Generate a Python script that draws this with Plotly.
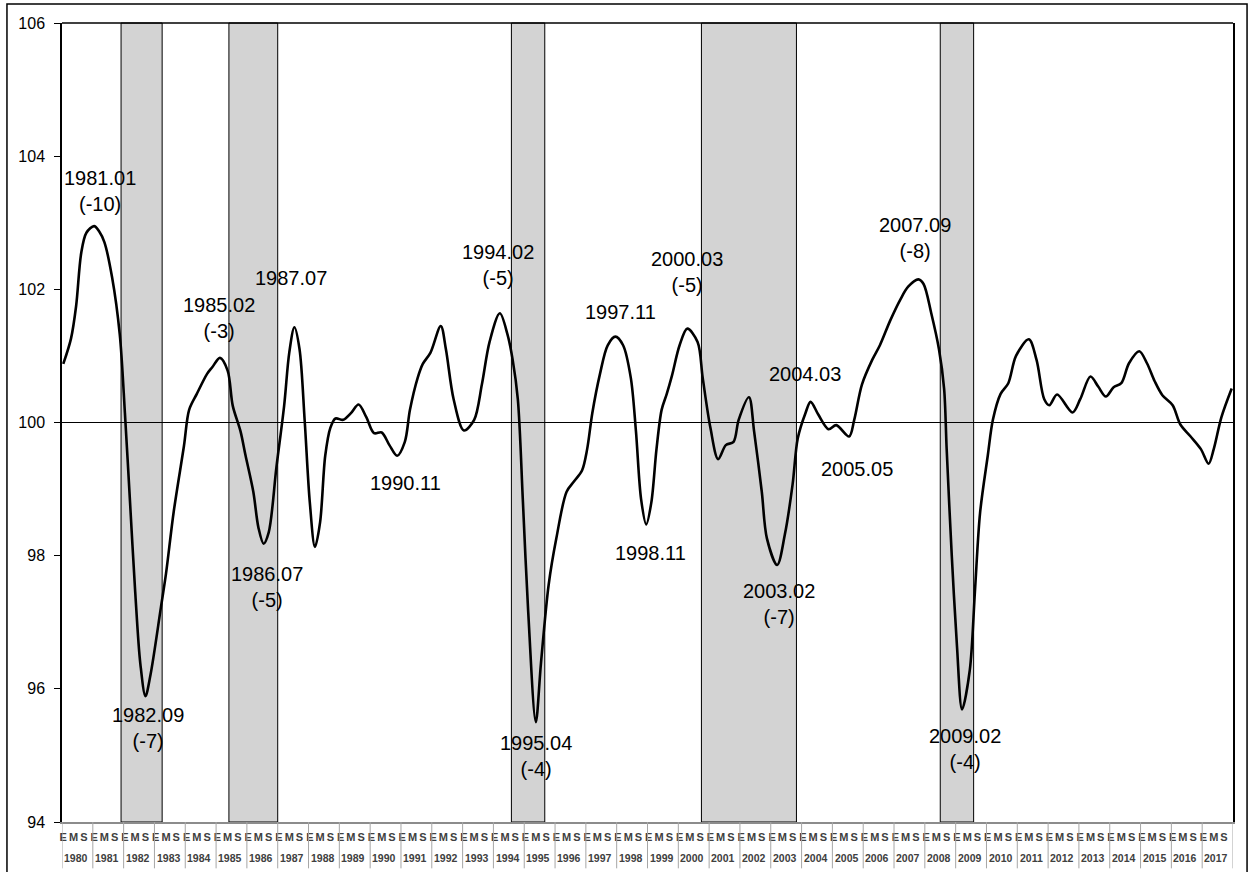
import plotly.graph_objects as go

# ---------------- data ----------------
fechas = [
    "1980.01", "1980.04", "1980.06", "1980.08", "1980.10", "1981.01", "1981.03", "1981.05",
    "1981.08", "1981.11", "1982.01", "1982.03", "1982.05", "1982.07", "1982.09", "1982.11",
    "1983.03", "1983.05", "1983.08", "1983.12", "1984.02", "1984.05", "1984.09", "1984.11",
    "1985.02", "1985.05", "1985.07", "1985.10", "1985.12", "1986.03", "1986.05", "1986.07",
    "1986.09", "1986.12", "1987.03", "1987.05", "1987.07", "1987.09", "1987.11", "1988.01",
    "1988.03", "1988.05", "1988.07", "1988.09", "1988.11", "1989.02", "1989.05", "1989.08",
    "1989.11", "1990.02", "1990.05", "1990.08", "1990.11", "1991.02", "1991.04", "1991.07",
    "1991.09", "1991.12", "1992.04", "1992.06", "1992.09", "1993.01", "1993.05", "1993.08",
    "1993.11", "1994.03", "1994.06", "1994.08", "1994.10", "1994.12", "1995.02", "1995.05",
    "1995.07", "1995.10", "1996.01", "1996.05", "1996.08", "1996.11", "1997.01", "1997.03",
    "1997.06", "1997.09", "1997.12", "1998.03", "1998.06", "1998.08", "1998.10", "1998.12",
    "1999.02", "1999.04", "1999.06", "1999.08", "1999.10", "2000.01", "2000.04", "2000.08",
    "2000.10", "2001.01", "2001.04", "2001.07", "2001.10", "2001.12", "2002.04", "2002.06",
    "2002.09", "2002.11", "2003.03", "2003.06", "2003.09", "2003.11", "2004.02", "2004.04",
    "2004.07", "2004.11", "2005.02", "2005.07", "2005.09", "2005.12", "2006.04", "2006.07",
    "2006.11", "2007.03", "2007.06", "2007.10", "2007.12", "2008.03", "2008.06", "2008.08",
    "2008.09", "2008.11", "2009.01", "2009.03", "2009.06", "2009.08", "2009.10", "2010.01",
    "2010.03", "2010.06", "2010.09", "2010.12", "2011.05", "2011.08", "2011.11", "2012.01",
    "2012.04", "2012.10", "2013.01", "2013.05", "2013.08", "2013.11", "2014.02", "2014.05",
    "2014.08", "2014.12", "2015.03", "2015.06", "2015.09", "2016.01", "2016.04", "2016.08",
    "2016.12", "2017.03", "2017.05", "2017.08", "2017.12",
]
valores = [
    100.88, 101.26, 101.75, 102.55, 102.85, 102.95, 102.87, 102.71,
    102.18, 101.32, 100.14, 98.80, 97.46, 96.38, 95.89, 96.22,
    97.22, 97.73, 98.66, 99.65, 100.19, 100.43, 100.73, 100.83,
    100.97, 100.78, 100.25, 99.87, 99.50, 98.96, 98.42, 98.18,
    98.35, 99.33, 100.25, 101.05, 101.43, 101.10, 100.03, 98.80,
    98.13, 98.50, 99.50, 99.92, 100.06, 100.04, 100.14, 100.27,
    100.08, 99.84, 99.85, 99.66, 99.50, 99.71, 100.19, 100.67,
    100.88, 101.05, 101.45, 101.10, 100.35, 99.88, 100.04, 100.57,
    101.21, 101.64, 101.32, 100.94, 100.35, 98.80, 97.19, 95.50,
    96.38, 97.56, 98.26, 98.96, 99.12, 99.28, 99.60, 100.14,
    100.73, 101.16, 101.29, 101.16, 100.67, 99.87, 98.85, 98.47,
    98.80, 99.60, 100.19, 100.43, 100.70, 101.16, 101.41, 101.21,
    100.67, 99.92, 99.45, 99.66, 99.71, 100.04, 100.38, 99.87,
    98.96, 98.26, 97.86, 98.32, 99.07, 99.76, 100.14, 100.31,
    100.12, 99.90, 99.96, 99.79, 100.04, 100.57, 100.94, 101.16,
    101.53, 101.85, 102.04, 102.15, 102.08, 101.64, 101.10, 100.51,
    99.60, 97.99, 96.65, 95.69, 96.28, 97.46, 98.64, 99.50,
    100.04, 100.43, 100.59, 101.00, 101.25, 100.94, 100.35, 100.26,
    100.42, 100.15, 100.35, 100.69, 100.54, 100.39, 100.53, 100.59,
    100.89, 101.07, 100.89, 100.62, 100.41, 100.26, 99.97, 99.79,
    99.60, 99.38, 99.60, 100.08, 100.51,
]

# recession periods (shaded)
rec_inicio = ["1981.12", "1985.06", "1994.08", "2000.10", "2008.07"]
rec_fin = ["1983.03", "1986.12", "1995.08", "2003.10", "2009.07"]

# turning-point labels
puntos_texto = ["1981.01<br>(-10)", "1982.09<br>(-7)", "1985.02<br>(-3)", "1986.07<br>(-5)",
                "1987.07", "1990.11", "1994.02<br>(-5)", "1995.04<br>(-4)", "1997.11",
                "1998.11", "2000.03<br>(-5)", "2003.02<br>(-7)", "2004.03", "2005.05",
                "2007.09<br>(-8)", "2009.02<br>(-4)"]

anios = list(range(1980, 2018))
meses_etiqueta = ["E", "M", "S"]
meses_pos = [0, 4, 8]
y_ticks = [94, 96, 98, 100, 102, 104, 106]
referencia = 100

# ---------------- helpers ----------------
def idx(f):
    y, m = f.split(".")
    return (int(y) - 1980) * 12 + int(m) - 1

x_vals = [idx(f) for f in fechas]
n_meses = len(anios) * 12

FONT = "Liberation Sans, Arial, sans-serif"

fig = go.Figure()
fig.add_trace(go.Scatter(
    x=x_vals, y=valores, mode="lines",
    line=dict(color="black", width=2.6, shape="spline", smoothing=0.9),
    showlegend=False, hoverinfo="skip",
))

shapes = []
for a, b in zip(rec_inicio, rec_fin):
    shapes.append(dict(type="rect", xref="x", yref="paper", x0=idx(a) - 0.5, x1=idx(b) + 0.5,
                       y0=0, y1=1, fillcolor="#d3d3d3", line=dict(color="black", width=1),
                       layer="below"))
shapes.append(dict(type="line", xref="paper", yref="y", x0=0, x1=1, y0=referencia, y1=referencia,
                   line=dict(color="black", width=1.2), layer="below"))
# top border of plot area
shapes.append(dict(type="line", xref="paper", yref="paper", x0=0, x1=1, y0=1, y1=1,
                   line=dict(color="black", width=1.5)))
# year separators under the axis
for k in range(len(anios) + 1):
    shapes.append(dict(type="line", xref="x", yref="paper", x0=12 * k - 0.5, x1=12 * k - 0.5,
                       y0=0, y1=-0.058, line=dict(color="#a6a6a6", width=1)))
# outer chart frame
shapes.append(dict(type="rect", xref="paper", yref="paper", x0=-0.047, x1=1.012, y0=-0.2, y1=1.0238,
                   line=dict(color="black", width=1.5), fillcolor="rgba(0,0,0,0)"))

# annotation positions (month index, value)
pos_anot = [(14.3, 103.48), (32.8, 95.41), (60.8, 101.57), (79.5, 97.53), (88.5, 102.17),
            (133.1, 99.09), (169.1, 102.36), (183.9, 94.99), (216.8, 101.66), (228.5, 98.04),
            (242.9, 102.26), (278.7, 97.27), (288.7, 100.73), (308.9, 99.30), (331.7, 102.77),
            (351.0, 95.09)]
annotations = []
for t, (ax_, ay_) in zip(puntos_texto, pos_anot):
    annotations.append(dict(x=ax_, y=ay_, xref="x", yref="y", text=t, showarrow=False,
                            font=dict(family=FONT, size=20, color="black"),
                            xanchor="center", yanchor="middle"))
for i, a in enumerate(anios):
    annotations.append(dict(x=12 * i + 5.0, y=-0.045, xref="x", yref="paper", text=str(a),
                            showarrow=False, xanchor="center", yanchor="middle",
                            font=dict(family=FONT, size=10.5, color="#404040", weight="bold")))

tickvals, ticktext = [], []
for i in range(len(anios)):
    for p, t in zip(meses_pos, meses_etiqueta):
        tickvals.append(12 * i + p)
        ticktext.append(t)

fig.update_layout(
    width=1251, height=872,
    margin=dict(l=62, r=18, t=23, b=50),
    paper_bgcolor="white", plot_bgcolor="white",
    font=dict(family=FONT, color="black"),
    shapes=shapes, annotations=annotations,
    xaxis=dict(range=[-0.5, n_meses - 0.5], tickmode="array", tickvals=tickvals, ticktext=ticktext,
               tickangle=0, ticks="", showgrid=False, zeroline=False, ticklabelstandoff=4,
               showline=True, linecolor="#8c8c8c", linewidth=2,
               tickfont=dict(family=FONT, size=11, color="#404040", weight="bold")),
    yaxis=dict(range=[94, 106], tickvals=y_ticks, ticks="outside", ticklen=6, tickcolor="black",
               showgrid=False, zeroline=False, showline=True, linecolor="black", linewidth=1.5,
               mirror=True, ticklabelstandoff=6,
               tickfont=dict(family=FONT, size=16, color="black")),
)

fig.write_html("out.html", config={"displayModeBar": False},
               post_script="document.body.style.margin='0px';"
               "document.body.style.padding='0px';document.body.style.overflow='hidden';")
